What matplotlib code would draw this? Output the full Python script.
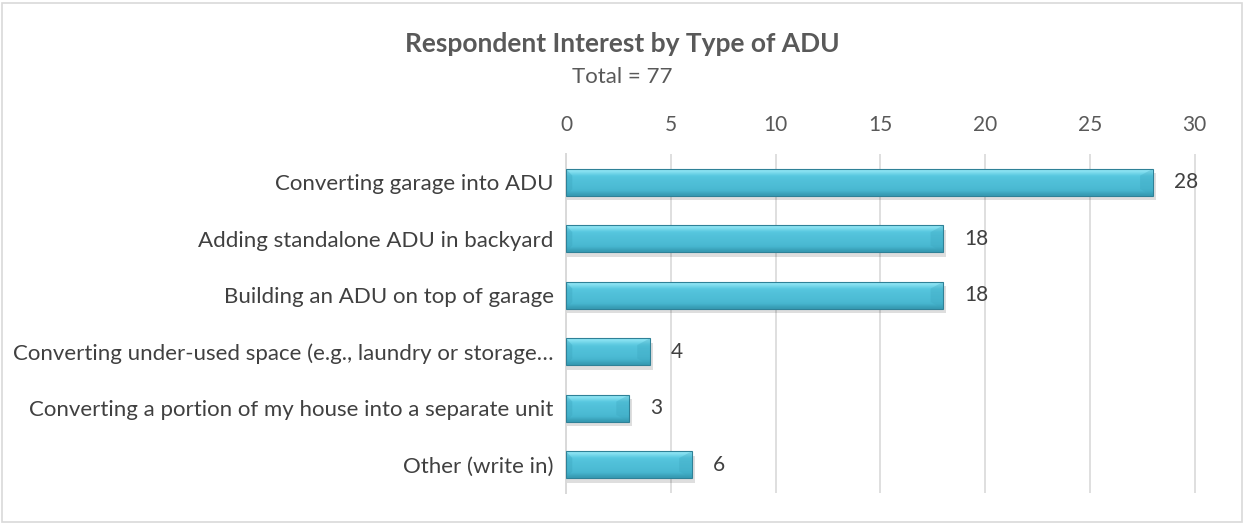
import numpy as np
import matplotlib.pyplot as plt
from matplotlib.patches import Rectangle, Polygon
from matplotlib.colors import LinearSegmentedColormap

plt.rcParams['font.family'] = ['Lato', 'DejaVu Sans']

categories = ['Converting garage into ADU',
              'Adding standalone ADU in backyard',
              'Building an ADU on top of garage',
              'Converting under-used space (e.g., laundry or storage\u2026',
              'Converting a portion of my house into a separate unit',
              'Other (write in)']
counts = [28, 18, 18, 4, 3, 6]
ticks = [0, 5, 10, 15, 20, 25, 30]

fig = plt.figure(figsize=(12.44, 5.23), dpi=100)
fig.patches.append(Rectangle((0.002, 0.002), 0.996, 0.993, transform=fig.transFigure,
                             fill=False, edgecolor='#d9d9d9', linewidth=1.2))
ax = fig.add_axes([0.455, 0.0574, 0.512, 0.648])

y = np.arange(len(categories))
h = 0.475
# bright top edge, cyan body, darker bottom
grad = np.array([[0.98], [0.8], [0.62], [0.55], [0.5], [0.46], [0.4], [0.3], [0.12]])
cmap = LinearSegmentedColormap.from_list('bev', ['#2d8ba3', '#47b6cf', '#58c8e0', '#95e8f6'])

for yi, v in zip(y, counts):
    # soft shadow under the bar
    ax.add_patch(Rectangle((0.05, yi - h / 2 + 0.08), v + 0.1, h, facecolor='#000000',
                           alpha=0.13, edgecolor='none', zorder=2))
    bar = Rectangle((0, yi - h / 2), v, h, facecolor='none', edgecolor='#2f8197',
                    linewidth=0.8, zorder=5)
    ax.add_patch(bar)
    im = ax.imshow(grad, cmap=cmap, vmin=0, vmax=1, aspect='auto',
                   extent=(0, v, yi + h / 2, yi - h / 2), interpolation='bicubic', zorder=3)
    im.set_clip_path(bar)
    # subtle bevel facets at the ends
    b = 0.3
    ax.add_patch(Polygon([(0, yi - h / 2), (b, yi - h / 4), (b, yi + h / 4), (0, yi + h / 2)],
                         closed=True, facecolor='#3aa3bc', alpha=0.35, edgecolor='none', zorder=4))
    ax.add_patch(Polygon([(v, yi - h / 2), (v - b * 2, yi - h / 4), (v - b * 2, yi + h / 4),
                          (v, yi + h / 2)],
                         closed=True, facecolor='#3aa3bc', alpha=0.3, edgecolor='none', zorder=4))
    ax.text(v + 1.0, yi, str(v), va='center', ha='left', fontsize=15, color='#404040')

ax.set_xlim(0, 30.4)
ax.set_ylim(len(categories) - 0.5, -0.5)
ax.set_xticks(ticks)
ax.xaxis.tick_top()
ax.tick_params(axis='x', length=0, labelsize=15, labelcolor='#595959', pad=14)
ax.set_yticks(y)
ax.set_yticklabels(categories)
ax.tick_params(axis='y', length=0, labelsize=16, labelcolor='#404040', pad=9)
ax.grid(axis='x', color='#d9d9d9', linewidth=1.2)
ax.set_axisbelow(True)
for s in ['top', 'right', 'bottom']:
    ax.spines[s].set_visible(False)
ax.spines['left'].set_color('#d9d9d9')
ax.spines['left'].set_linewidth(1.4)

fig.text(0.5, 0.9006, 'Respondent Interest by Type of ADU', ha='center', va='baseline',
         fontsize=19, fontweight='bold', color='#595959')
fig.text(0.5, 0.841, 'Total = 77', ha='center', va='baseline', fontsize=16, color='#595959')

fig.savefig('out.png', dpi=100)
